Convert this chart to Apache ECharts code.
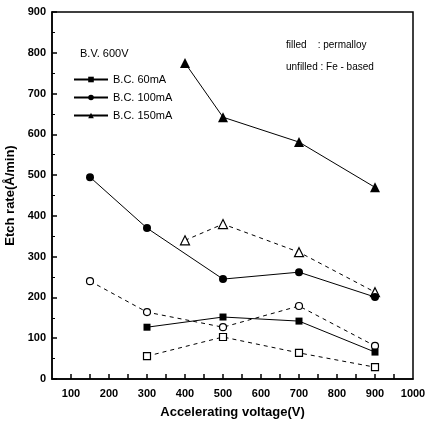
<!DOCTYPE html>
<html><head><meta charset="utf-8">
<script src="https://cdn.jsdelivr.net/npm/echarts@6/dist/echarts.min.js"></script>
<style>html,body{margin:0;padding:0;background:#fff}#c{width:425px;height:424px}</style>
</head><body><div id="c"></div>
<script>
const xLabels = [100,200,300,400,500,600,700,800,900,1000];
const yLabels = [0,100,200,300,400,500,600,700,800,900];
const perm60  = [[300,127],[500,152],[700,142],[900,66]];
const perm100 = [[150,495],[300,370],[500,245],[700,262],[900,201]];
const perm150 = [[400,775],[500,642],[700,581],[900,470]];
const fe60  = [[300,56],[500,103],[700,64],[900,29]];
const fe100 = [[150,240],[300,164],[500,127],[700,179],[900,81]];
const fe150 = [[400,340],[500,380],[700,311],[900,213]];

const F = 'Liberation Sans, Arial, sans-serif';
const chart = echarts.init(document.getElementById('c'));
function s(name, data, sym, filled, dashed, size){
  return {name, type:'line', data, symbol:sym, symbolSize:size,
    lineStyle:{color:'#000', width:1, type: dashed?[4,4]:'solid'},
    itemStyle:{color: filled?'#000':'#fff', borderColor:'#000', borderWidth: filled?0:1.2},
    emphasis:{disabled:true}, z: filled?3:2};
}
chart.setOption({
  animation:false,
  grid:{left:52,right:12,top:12,bottom:45,show:true,borderColor:'#000',borderWidth:1.5,outerBoundsMode:'none',containLabel:false},
  xAxis:{type:'value',min:50,max:1000,
    name:'Accelerating voltage(V)',nameLocation:'middle',nameGap:27,
    nameTextStyle:{fontFamily:F,fontWeight:'bold',fontSize:13,color:'#000'},
    axisLine:{lineStyle:{color:'#000',width:1.5}},
    axisTick:{show:true,inside:true,length:5,customValues:[100,150,200,250,300,350,400,450,500,550,600,650,700,750,800,850,900,950],lineStyle:{color:'#000',width:1.5}},
    axisLabel:{customValues:xLabels,formatter:v=>String(v),fontFamily:F,fontWeight:'bold',fontSize:11,color:'#000',margin:9},
    splitLine:{show:false}},
  yAxis:{type:'value',min:0,max:900,interval:100,
    name:'Etch rate(Å/min)',nameLocation:'middle',nameGap:30,
    nameTextStyle:{fontFamily:F,fontWeight:'bold',fontSize:13,color:'#000'},
    axisLine:{lineStyle:{color:'#000',width:1.5}},
    axisTick:{inside:true,length:5,lineStyle:{color:'#000',width:1.5}},
    minorTick:{show:true,splitNumber:2,length:3,lineStyle:{color:'#000',width:1}},
    axisLabel:{fontFamily:F,fontWeight:'bold',fontSize:11,color:'#000',margin:6,
      formatter:v=>yLabels.includes(v)?String(v):''},
    splitLine:{show:false}},
  legend:{left:68,top:69,orient:'vertical',itemGap:7,itemWidth:34,itemHeight:7,
    data:['B.C. 60mA','B.C. 100mA','B.C. 150mA'],
    textStyle:{fontFamily:F,fontSize:11,color:'#000'}},
  graphic:[
    {type:'text',left:80,top:48,style:{text:'B.V. 600V',font:'11px '+F,fill:'#000'}},
    {type:'text',left:286,top:40,style:{text:'filled    : permalloy',font:'10px '+F,fill:'#000'}},
    {type:'text',left:286,top:62,style:{text:'unfilled : Fe - based',font:'10px '+F,fill:'#000'}}
  ],
  series:[
    s('B.C. 60mA',perm60,'rect',true,false,7),
    s('B.C. 100mA',perm100,'circle',true,false,8),
    s('B.C. 150mA',perm150,'triangle',true,false,10),
    s('fe60',fe60,'rect',false,true,7),
    s('fe100',fe100,'circle',false,true,7),
    s('fe150',fe150,'triangle',false,true,9)
  ]
});
</script></body></html>
